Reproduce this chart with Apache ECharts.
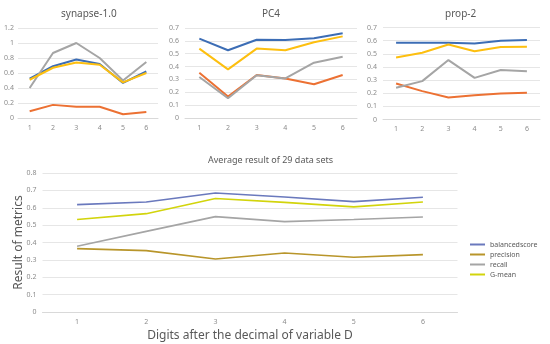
<!DOCTYPE html>
<html><head><meta charset="utf-8">
<script src="https://cdn.jsdelivr.net/npm/echarts@6/dist/echarts.min.js"></script>
<style>html,body{margin:0;padding:0;background:#fff}#c{width:550px;height:344px}</style>
</head><body><div id="c"></div>
<script>
const categories = ['1','2','3','4','5','6'];
// synapse-1.0
const synBlue   = [0.524, 0.69, 0.78, 0.72, 0.467, 0.62];
const synOrange = [0.09, 0.175, 0.15, 0.15, 0.05, 0.08];
const synGray   = [0.40, 0.867, 1.0, 0.80, 0.50, 0.747];
const synYellow = [0.51, 0.67, 0.74, 0.71, 0.475, 0.60];
// PC4
const pcBlue   = [0.617, 0.527, 0.609, 0.607, 0.62, 0.66];
const pcOrange = [0.352, 0.167, 0.334, 0.308, 0.262, 0.334];
const pcGray   = [0.319, 0.154, 0.332, 0.308, 0.43, 0.476];
const pcYellow = [0.54, 0.378, 0.54, 0.527, 0.589, 0.635];
// prop-2
const prBlue   = [0.584, 0.584, 0.584, 0.579, 0.599, 0.604];
const prOrange = [0.274, 0.216, 0.168, 0.185, 0.198, 0.203];
const prGray   = [0.241, 0.292, 0.452, 0.317, 0.376, 0.368];
const prYellow = [0.472, 0.508, 0.571, 0.52, 0.551, 0.553];
// Average of 29 data sets
const avgBalanced  = [0.618, 0.633, 0.685, 0.662, 0.635, 0.66];
const avgPrecision = [0.365, 0.353, 0.305, 0.34, 0.315, 0.33];
const avgRecall    = [0.378, 0.464, 0.549, 0.52, 0.532, 0.547];
const avgGmean     = [0.532, 0.566, 0.653, 0.631, 0.605, 0.633];
const legendNames = ['balancedscore', 'precision', 'recall', 'G-mean'];

const FONT = '"Noto Sans", sans-serif';
const grids = [
  {left: 18, top: 28, width: 140, height: 90},
  {left: 185, top: 28, width: 172, height: 90},
  {left: 383, top: 27.5, width: 157, height: 92},
  {left: 42.5, top: 173, width: 415, height: 139}
];
const yCfg = [
  {max: 1.2, interval: 0.2},
  {max: 0.7, interval: 0.1},
  {max: 0.7, interval: 0.1},
  {max: 0.8, interval: 0.1}
];
const xAxis = grids.map((g, i) => ({
  type: 'category', gridIndex: i, data: categories, boundaryGap: true,
  axisLine: {lineStyle: {color: '#d9d9d9'}}, axisTick: {show: false},
  axisLabel: {color: '#8c8c8c', fontSize: 7, margin: 6, fontFamily: FONT},
  name: i === 3 ? 'Digits after the decimal of variable D' : '',
  nameLocation: 'middle', nameGap: 18, nameMoveOverlap: false,
  nameTextStyle: {color: '#595959', fontSize: 12, fontFamily: FONT}
}));
const yAxis = yCfg.map((c, i) => ({
  type: 'value', gridIndex: i, min: 0, max: c.max, interval: c.interval,
  axisLine: {show: false}, axisTick: {show: false},
  axisLabel: {color: '#8c8c8c', fontSize: 7, margin: i === 0 ? 4 : 6, fontFamily: FONT,
    formatter: v => String(Math.round(v * 10) / 10)},
  splitLine: {lineStyle: {color: '#e6e6e6'}},
  name: i === 3 ? 'Result of metrics' : '',
  nameLocation: 'middle', nameGap: 18, nameMoveOverlap: false,
  nameTextStyle: {color: '#595959', fontSize: 12, fontFamily: FONT}
}));
const topColors = {blue: '#3c6db5', orange: '#ec7133', gray: '#a5a5a5', yellow: '#fdbf0f'};
function line(name, data, idx, color, w) {
  return {name, type: 'line', xAxisIndex: idx, yAxisIndex: idx, data, symbol: 'none',
    lineStyle: {color, width: w}, itemStyle: {color}, animation: false, silent: true};
}
const series = [];
[[synBlue, synOrange, synGray, synYellow], [pcBlue, pcOrange, pcGray, pcYellow], [prBlue, prOrange, prGray, prYellow]]
  .forEach((set, i) => {
    series.push(line('b' + i, set[0], i, topColors.blue, 2));
    series.push(line('o' + i, set[1], i, topColors.orange, 2));
    series.push(line('g' + i, set[2], i, topColors.gray, 2));
    series.push(line('y' + i, set[3], i, topColors.yellow, 2));
  });
series.push(line(legendNames[0], avgBalanced, 3, '#6a79bd', 1.6));
series.push(line(legendNames[1], avgPrecision, 3, '#b8952a', 1.6));
series.push(line(legendNames[2], avgRecall, 3, '#a5a5a5', 1.6));
series.push(line(legendNames[3], avgGmean, 3, '#d2d40c', 1.6));

const chart = echarts.init(document.getElementById('c'), null, {renderer: 'canvas'});
chart.setOption({
  animation: false,
  title: [
    {text: 'synapse-1.0', left: 56, top: 4},
    {text: 'PC4', left: 257, top: 4},
    {text: 'prop-2', left: 440, top: 4},
    {text: 'Average result of 29 data sets', left: 203, top: 151}
  ].map((t, i) => Object.assign(t, {textStyle: {color: '#595959', fontSize: i === 3 ? 9 : 10, fontWeight: 'normal', fontFamily: FONT}})),
  legend: {
    data: legendNames, orient: 'vertical', left: 465, top: 236,
    itemWidth: 15, itemHeight: 2, itemGap: 3, icon: 'rect',
    textStyle: {color: '#595959', fontSize: 7, fontFamily: FONT},
    selectedMode: false
  },
  grid: grids,
  xAxis, yAxis, series
});
</script></body></html>
